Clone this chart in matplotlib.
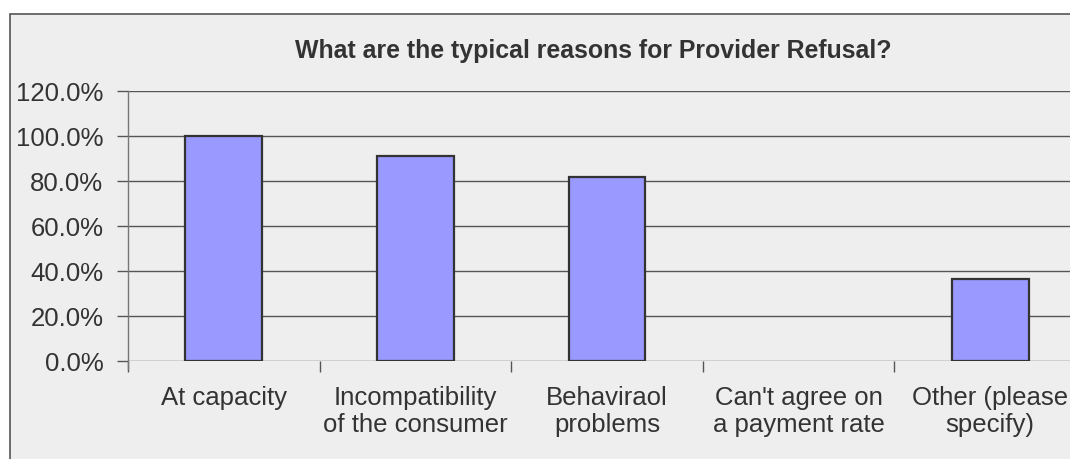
import matplotlib
matplotlib.use("Agg")
import matplotlib.pyplot as plt
from matplotlib.patches import Rectangle
from matplotlib.ticker import FuncFormatter, FixedLocator, NullFormatter

categories = [
    "At capacity",
    "Incompatibility\nof the consumer",
    "Behaviraol\nproblems",
    "Can't agree on\na payment rate",
    "Other (please\nspecify)",
]
shares = [1.000, 0.909, 0.818, 0.0, 0.364]
y_ticks = [0.0, 0.2, 0.4, 0.6, 0.8, 1.0, 1.2]
title = "What are the typical reasons for Provider Refusal?"

W, H = 1070, 460
plt.rcParams["font.family"] = ["Liberation Sans", "DejaVu Sans"]
fig = plt.figure(figsize=(W / 100, H / 100), dpi=100, facecolor="white")

# chart area panel with its frame
fig.patches.append(Rectangle((10 / W, -0.1), 1.2, 1 - 15 / H + 0.1,
                             transform=fig.transFigure, facecolor="#EEEEEE",
                             edgecolor="#555555", linewidth=1.2, zorder=-5))

ax = fig.add_axes([128 / W, (H - 362) / H, (1086 - 128) / W, (362 - 92) / H])
ax.set_zorder(2)
ax.set_facecolor("none")
x = list(range(len(categories)))
bars = ax.bar(x, shares, width=0.40, color="#9999FF", edgecolor="#333333",
              linewidth=1.6, zorder=3)
# an empty bar leaves no outline on the baseline
for bar, v in zip(bars, shares):
    if v == 0:
        bar.set_linewidth(0)

ax.set_xlim(-0.5, len(categories) - 0.5)
ax.set_ylim(0, 1.2)
ax.set_yticks(y_ticks)
ax.yaxis.set_major_formatter(FuncFormatter(lambda v, p: f"{v * 100:.1f}%"))
ax.grid(axis="y", color="#555555", linewidth=1.0, zorder=1)
ax.tick_params(axis="y", length=8, width=1.0, color="#555555",
               labelsize=18.5, labelcolor="#333333", pad=9.8)

# category boundary ticks, labels centred under bars
ax.xaxis.set_major_locator(FixedLocator([i - 0.5 for i in range(len(categories) + 1)]))
ax.xaxis.set_major_formatter(NullFormatter())
ax.xaxis.set_minor_locator(FixedLocator(x))
ax.set_xticklabels(categories, minor=True)
ax.tick_params(axis="x", which="major", length=8, width=1.0, color="#555555")
ax.tick_params(axis="x", which="minor", length=0, labelsize=18.5,
               labelcolor="#333333", pad=17)
for lbl in ax.get_xticklabels(minor=True):
    lbl.set_linespacing(1.2)

for side in ["top", "right", "bottom"]:
    ax.spines[side].set_visible(False)
ax.spines["left"].set_color("#777777")
ax.spines["left"].set_linewidth(1.0)
ax.spines["left"].set_bounds(-0.035, 1.2)

fig.text(593 / W, 1 - 51 / H, title, ha="center", va="center",
         fontsize=17.9, fontweight="bold", color="#333333")

fig.savefig("out.png", dpi=100, facecolor="white")
